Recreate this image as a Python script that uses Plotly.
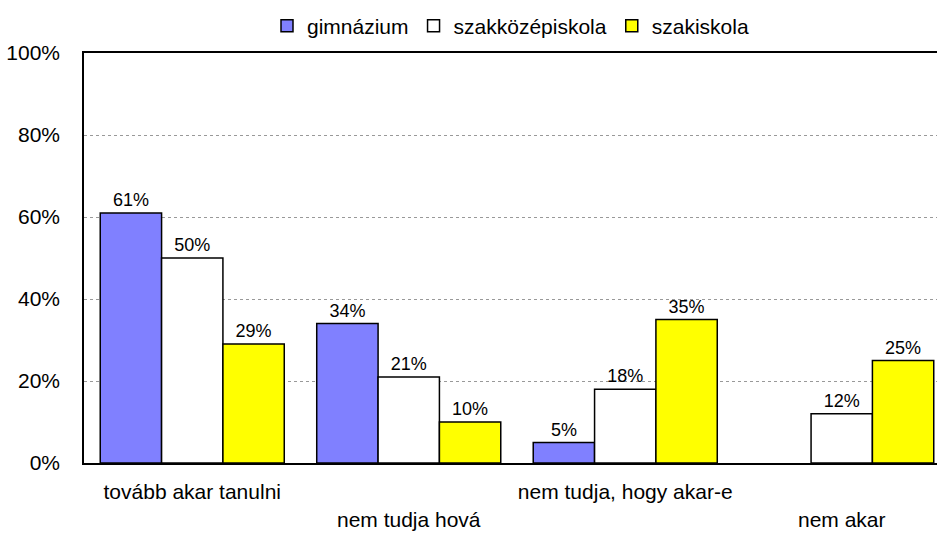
import plotly.graph_objects as go

# ── DATA ──────────────────────────────────────
CATEGORIES = ["tovább akar tanulni", "nem tudja hová", "nem tudja, hogy akar-e", "nem akar"]
TICK_TEXT  = ["tovább akar tanulni", "<br>nem tudja hová", "nem tudja, hogy akar-e", "<br>nem akar"]
GIMNAZIUM  = [61, 34, 5, None]
SZAKKOZEP  = [50, 21, 18, 12]
SZAKISKOLA = [29, 10, 35, 25]
Y_TICKS    = [0, 20, 40, 60, 80, 100]

FONT = "Liberation Sans, Arial, sans-serif"

fig = go.Figure()

series = [
    ("gimnázium", GIMNAZIUM, "#8080FF"),
    ("szakközépiskola", SZAKKOZEP, "#FFFFFF"),
    ("szakiskola", SZAKISKOLA, "#FFFF00"),
]
for name, vals, color in series:
    fig.add_trace(go.Bar(
        x=CATEGORIES, y=vals, name=name,
        marker=dict(color=color, line=dict(color="black", width=1.5)),
        text=[f"{v}%" if v is not None else "" for v in vals],
        textposition="outside",
        textfont=dict(family=FONT, size=18, color="black"),
        cliponaxis=False,
    ))

fig.update_layout(
    width=937, height=536,
    margin=dict(l=84, r=0, t=53, b=73, autoexpand=False),
    paper_bgcolor="white", plot_bgcolor="white",
    barmode="group", bargap=0.15, bargroupgap=0,
    font=dict(family=FONT, size=21, color="black"),
    showlegend=True,
    legend=dict(orientation="h", x=0.5, xanchor="center",
                yref="container", y=1 - 26 / 536, yanchor="middle",
                font=dict(size=21), itemwidth=30, tracegroupgap=0,
                bgcolor="rgba(0,0,0,0)"),
)

fig.update_xaxes(
    tickmode="array", tickvals=CATEGORIES, ticktext=TICK_TEXT,
    range=[-0.5, 3.44], automargin=False,
    showline=True, linecolor="black", linewidth=2, mirror=True,
    ticks="", showgrid=False, tickfont=dict(size=21), ticklabelstandoff=9,
)
fig.update_yaxes(
    range=[0, 100], tickvals=Y_TICKS, ticktext=[f"{t}%" for t in Y_TICKS],
    automargin=False,
    showline=True, linecolor="black", linewidth=1.5,
    showgrid=True, gridcolor="#999999", griddash="dot", gridwidth=1,
    zeroline=False, ticks="", tickfont=dict(size=21), ticklabelstandoff=18,
)

fig.write_html("out.html", config={"displayModeBar": False},
               post_script="document.body.style.margin='0';")
